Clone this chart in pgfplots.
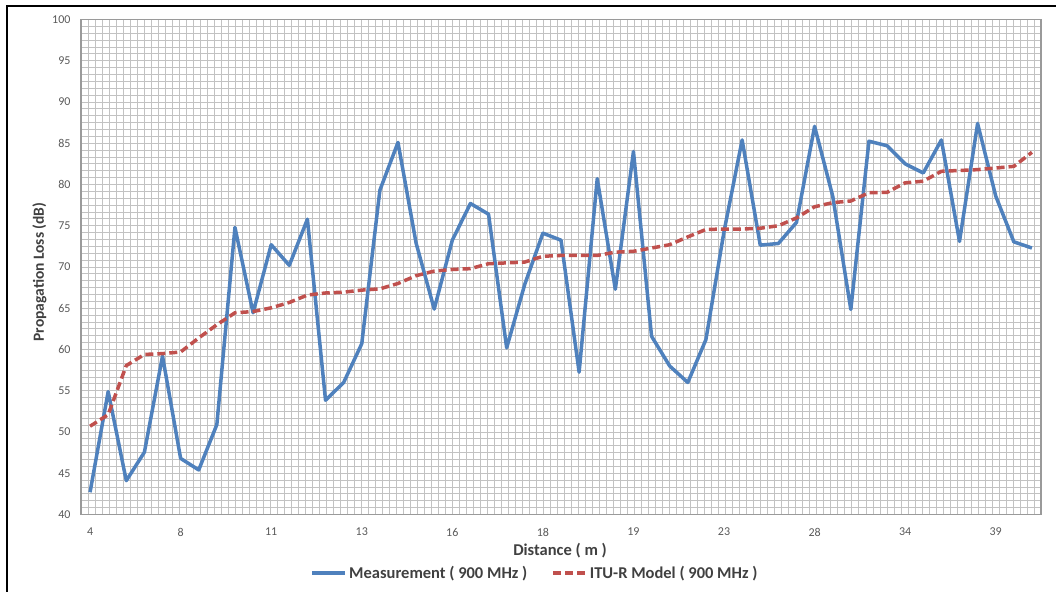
\documentclass[border=0pt]{standalone}
\usepackage{pgfplots}
\pgfplotsset{compat=1.18}
\usepackage{pgfplotstable}
\usepackage{fontspec}
\setmainfont{Carlito}
\definecolor{meas}{HTML}{4F81BD}
\definecolor{itu}{HTML}{C0504D}
\definecolor{gridc}{HTML}{C2C2C2}
\definecolor{ticktext}{HTML}{595959}
\definecolor{titletext}{HTML}{404040}
\definecolor{framec}{HTML}{9A9A9A}
\pgfplotstableread{
i meas itu
0 42.7 50.7
1 54.9 52.1
2 44.1 58.05
3 47.55 59.4
4 59.2 59.5
5 46.8 59.7
6 45.4 61.4
7 50.9 63.0
8 74.8 64.45
9 64.45 64.6
10 72.7 65.05
11 70.2 65.7
12 75.8 66.6
13 53.85 66.85
14 56.0 66.95
15 60.7 67.2
16 79.3 67.35
17 85.1 68.0
18 72.9 68.95
19 64.9 69.5
20 73.25 69.7
21 77.7 69.8
22 76.4 70.4
23 60.2 70.5
24 67.9 70.6
25 74.1 71.3
26 73.25 71.4
27 57.25 71.4
28 80.7 71.4
29 67.3 71.8
30 84.0 71.9
31 61.6 72.3
32 58.0 72.7
33 56.0 73.65
34 61.2 74.55
35 74.3 74.6
36 85.4 74.6
37 72.65 74.7
38 72.85 75.0
39 75.4 75.95
40 87.05 77.3
41 78.6 77.8
42 64.85 78.0
43 85.25 79.0
44 84.7 79.05
45 82.5 80.2
46 81.4 80.4
47 85.4 81.6
48 73.1 81.7
49 87.4 81.8
50 78.6 82.0
51 73.05 82.2
52 72.3 83.9
}\datatable
\begin{document}
\begin{tikzpicture}
\begin{axis}[
  width=960pt, height=495pt, scale only axis,
  xmin=-0.5, xmax=52.5, ymin=40, ymax=100,
  xtick={0,5,...,50},
  xticklabels={4,8,11,13,16,18,19,23,28,34,39},
  ytick={40,45,...,100},
  minor y tick num=5,
  minor xtick={-0.5,-0.1131,...,52.5},
  ymajorgrids, yminorgrids, xminorgrids,
  major grid style={draw=gridc, line width=0.8pt},
  minor grid style={draw=gridc, line width=0.8pt},
  major tick length=0pt, minor tick length=0pt,
  axis line style={draw=framec, line width=1.5pt},
  /pgf/number format/assume math mode=true,
  yticklabel style={font=\fontsize{12}{14}\selectfont, text=ticktext, xshift=-7pt},
  xticklabel style={font=\fontsize{12}{14}\selectfont, text=ticktext, yshift=-10pt},
  xlabel={Distance ( m )},
  ylabel={Propagation Loss (dB)},
  xlabel style={at={(axis description cs:0.499,-0.0737)}, anchor=center, font=\bfseries\fontsize{16.5}{19}\selectfont, text=titletext},
  ylabel style={at={(axis description cs:-0.0432,0.49)}, anchor=center, font=\bfseries\fontsize{15.5}{18}\selectfont, text=titletext},
  legend columns=2,
  legend style={at={(axis description cs:0.473,-0.118)}, anchor=center, draw=none, fill=none,
    font=\bfseries\fontsize{16.5}{19}\selectfont, text=titletext,
    /tikz/every even column/.append style={column sep=22pt}},
  legend image code/.code={\draw[#1] (0pt,0pt) -- (33pt,0pt);},
]
\addplot[meas, line width=3.5pt, line join=round] table[x=i, y=meas] {\datatable};
\addlegendentry{Measurement ( 900 MHz )}
\addplot[itu, line width=3.5pt, dash pattern=on 8pt off 4pt] table[x=i, y=itu] {\datatable};
\addlegendentry{ITU-R Model ( 900 MHz )}
\end{axis}
\pgfresetboundingbox
\path[use as bounding box] (-81pt,-76.5pt) rectangle (975pt,514.5pt);
\draw[line width=2.5pt] (-74pt,-85pt) -- (-74pt,508.5pt) -- (985pt,508.5pt);
\end{tikzpicture}
\end{document}
